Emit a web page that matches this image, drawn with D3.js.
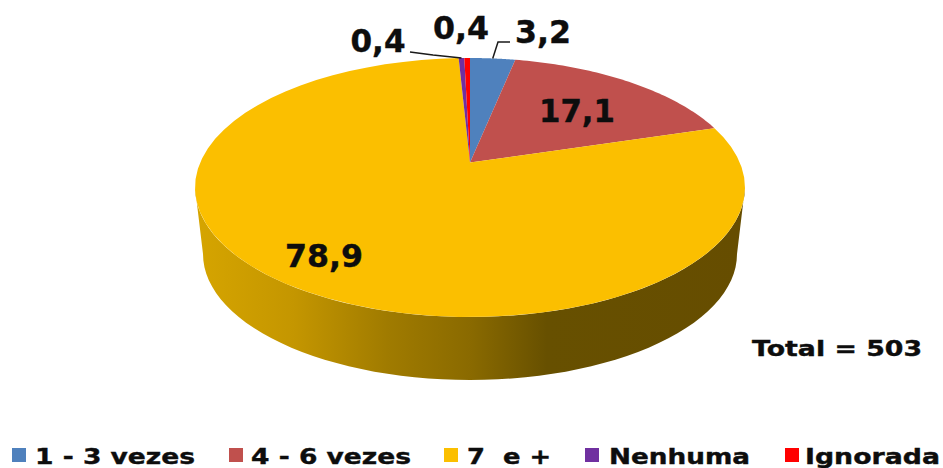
<!DOCTYPE html>
<html>
<head>
<meta charset="utf-8">
<script src="https://cdn.jsdelivr.net/npm/d3@7"></script>
<style>
  html, body { margin: 0; padding: 0; background: #fff; }
  svg { display: block; }
  text { font-family: "DejaVu Sans", sans-serif; font-weight: bold; fill: #0d0d0d; stroke: #0d0d0d; stroke-width: 0.4px; }
</style>
</head>
<body>
<svg id="chart" width="943" height="468"></svg>
<script>
var categories = ['1 - 3 vezes', '4 - 6 vezes', '7  e +', 'Nenhuma', 'Ignorada']
  , values = [3.2, 17.1, 78.9, 0.4, 0.4]
  , valueLabels = ['3,2', '17,1', '78,9', '0,4', '0,4']
  , colors = ['#4f81bd', '#c0504d', '#fbbf00', '#7030a0', '#ff0000']
  , totalLabel = 'Total = 503'

// layout
var cx = 470, cy = 187.5, rx = 275, ry = 129.5
  , bottomCy = 254, bottomRx = 267, bottomRy = 126
  , tilt = -25 / ry
  , labelSpots = [[543, 43], [577, 122], [324, 267], [378, 52], [461, 39]]
  , labelWidths = [56, 76, 78, 55, 56]
  , legendX = [12, 229, 444, 585, 785]
  , legendTextX = [35, 251, 467, 609, 805]
  , legendTextW = [160, 160, 84, 141, 135]

var svg = d3.select('#chart')
  , defs = svg.append('defs')

// the pie is tipped back, so a unit circle goes through a perspective map
var project = function(angle, r) {
  var u = r * Math.sin(angle)
    , v = r * Math.cos(angle)
    , w = 1 - tilt * v
  return [cx + rx * Math.sqrt(1 - tilt * tilt) * u / w, cy - ry * (v - tilt) / w]
}

var pie = d3.pie().sort(null).value(function(d) { return d })
  , slices = pie(values)
  , line = d3.line()

var slicePath = function(d) {
  var a = d3.scaleLinear().domain([0, 60]).range([d.startAngle, d.endAngle])
    , pts = d3.range(61).map(function(i) { return project(a(i), 1) })
  return line([project(0, 0)].concat(pts)) + 'Z'
}

// side wall
var sideGradient = defs.append('linearGradient')
  .attr('id', 'side')
  .attr('gradientUnits', 'userSpaceOnUse')
  .attr('x1', 195).attr('x2', 745).attr('y1', 0).attr('y2', 0)
sideGradient.selectAll('stop')
  .data([[0, '#d6a500'], [0.18, '#c49600'], [0.35, '#a07b00'], [0.5, '#8a6a00'], [0.64, '#675000'], [1, '#664d00']])
  .enter().append('stop')
  .attr('offset', function(d) { return d[0] })
  .attr('stop-color', function(d) { return d[1] })

var halfTurn = d3.range(61).map(function(i) { return Math.PI * i / 60 })
  , topEdge = halfTurn.map(function(t) { return [cx - rx * Math.cos(t), cy + ry * Math.sin(t)] })
  , bottomEdge = halfTurn.map(function(t) { return [cx + bottomRx * Math.cos(t), bottomCy + bottomRy * Math.sin(t)] })

svg.append('path')
  .attr('d', line(topEdge.concat(bottomEdge)) + 'Z')
  .attr('fill', 'url(#side)')

// top face
svg.selectAll('path.slice')
  .data(slices)
  .enter().append('path')
  .attr('class', 'slice')
  .attr('d', slicePath)
  .attr('fill', function(d, i) { return colors[i] })

// leader lines for the small slices
var mid = function(d) { return (d.startAngle + d.endAngle) / 2 }
var leaders = [
  [project(mid(slices[0]), 1), [498, 42], [510, 42]],
  [project(mid(slices[3]), 1), [433, 55], [410, 52]]
]
svg.selectAll('path.leader')
  .data(leaders)
  .enter().append('path')
  .attr('class', 'leader')
  .attr('d', function(d) { return line(d) })
  .attr('fill', 'none')
  .attr('stroke', '#1a1a1a')
  .attr('stroke-width', 1.5)

// value labels
svg.selectAll('text.value')
  .data(valueLabels)
  .enter().append('text')
  .attr('class', 'value')
  .attr('x', function(d, i) { return labelSpots[i][0] })
  .attr('y', function(d, i) { return labelSpots[i][1] })
  .attr('text-anchor', 'middle')
  .attr('textLength', function(d, i) { return labelWidths[i] })
  .attr('lengthAdjust', 'spacingAndGlyphs')
  .style('font-size', '32px')
  .text(function(d) { return d })

svg.append('text')
  .attr('x', 752)
  .attr('y', 356)
  .attr('textLength', 170)
  .attr('lengthAdjust', 'spacingAndGlyphs')
  .style('font-size', '22px')
  .text(totalLabel)

// legend
svg.selectAll('rect.key')
  .data(categories)
  .enter().append('rect')
  .attr('class', 'key')
  .attr('x', function(d, i) { return legendX[i] })
  .attr('y', 448)
  .attr('width', 14)
  .attr('height', 14)
  .attr('fill', function(d, i) { return colors[i] })

svg.selectAll('text.key')
  .data(categories)
  .enter().append('text')
  .attr('class', 'key')
  .attr('x', function(d, i) { return legendTextX[i] })
  .attr('y', 464)
  .attr('textLength', function(d, i) { return legendTextW[i] })
  .attr('lengthAdjust', 'spacingAndGlyphs')
  .style('font-size', '22px')
  .style('white-space', 'pre')
  .text(function(d) { return d })
</script>
</body>
</html>
